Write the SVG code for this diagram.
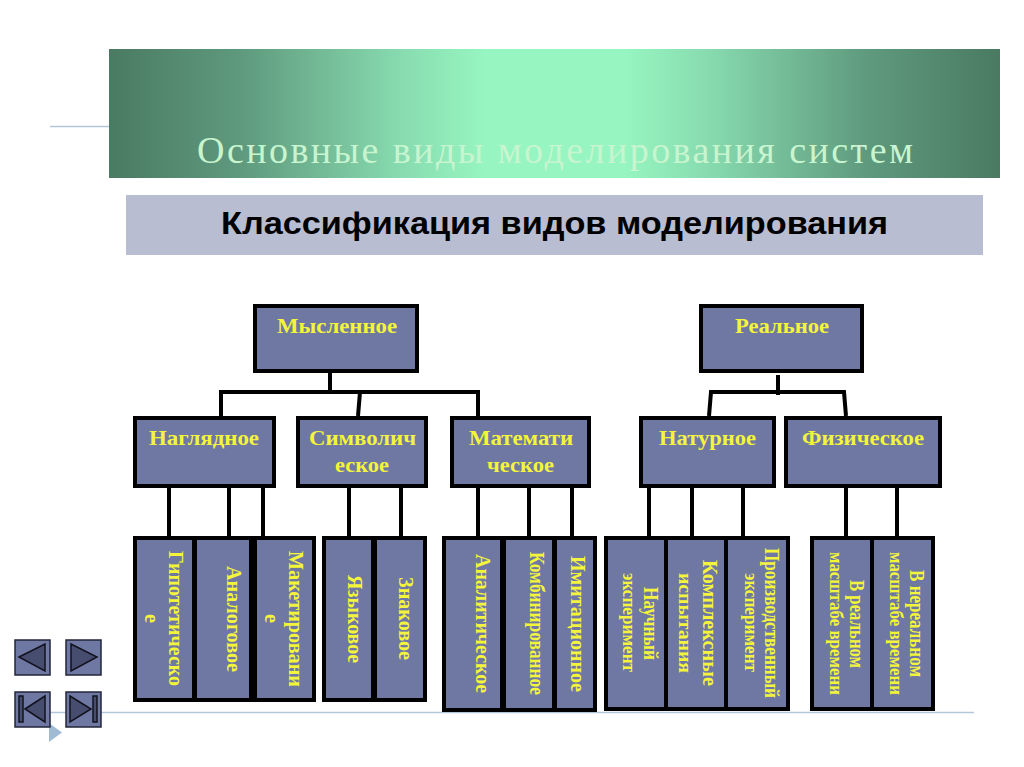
<svg xmlns="http://www.w3.org/2000/svg" width="1024" height="767" viewBox="0 0 1024 767">
<style>
.b{fill:#6e78a2;stroke:#000;stroke-width:4}
.t{font-family:"Liberation Serif",serif;font-weight:bold;font-size:22px;fill:#f4f53a}
.v{font-size:20px}
.s{font-size:18px}
.c{fill:none;stroke:#000;stroke-width:4}
.n{fill:#6e78a2;stroke:#23263a;stroke-width:1.5}
.g{fill:#474d6e;stroke:#12131f;stroke-width:1.5}
.l{fill:none;stroke:#b4c6da;stroke-width:1.5}
</style>
<defs>
<linearGradient id="hg" x1="0" y1="0" x2="1" y2="0">
<stop offset="0" stop-color="#4a7a62"/>
<stop offset=".15" stop-color="#5f9a7e"/>
<stop offset=".33" stop-color="#88dcb0"/>
<stop offset=".42" stop-color="#96f5c0"/>
<stop offset=".58" stop-color="#96f5c0"/>
<stop offset=".67" stop-color="#88dcb0"/>
<stop offset=".85" stop-color="#5f9a7e"/>
<stop offset="1" stop-color="#4a7a62"/>
</linearGradient>
</defs>
<rect width="1024" height="767" fill="#fff"/>
<g id="decor">
<path class="l" d="M50 126.500H110M50 712.500H974"/>
<path d="M49 723L62 732.500L49 742Z" fill="#a0bcd4"/>
</g>
<g id="header">
<rect x="109" y="49" width="891" height="129" fill="url(#hg)"/>
<text x="197" y="163" textLength="716" lengthAdjust="spacing" font-family="'Liberation Serif',serif" font-size="38" fill="#c8f5cf">Основные виды моделирования систем</text>
</g>
<g id="subtitle">
<rect x="126" y="195" width="857" height="60" fill="#b8bdd1"/>
<text x="221" y="234" textLength="667" lengthAdjust="spacingAndGlyphs" font-family="'Liberation Sans',sans-serif" font-weight="bold" font-size="32" fill="#000">Классификация видов моделирования</text>
</g>
<g id="connectors">
<path class="c" d="M330 373V392M221 416V392H478V416M360 392L358 416"/>
<path class="c" d="M778 375V395M709 416L711 392H844L846 416"/>
<path class="c" d="M169 488V537M229 488V537M263 488V537M349 488V537M401 488V537M478 488V537M529 488V537M572 488V537M649 488V537M692 488V537M743 488V537M846 488V537M897 488V537"/>
</g>
<g id="n-myslennoe"><rect class="b" x="255" y="306" width="162" height="65"/><text class="t" x="277" y="333" textLength="120" lengthAdjust="spacingAndGlyphs">Мысленное</text></g>
<g id="n-realnoe"><rect class="b" x="701" y="306" width="161" height="65"/><text class="t" x="735" y="333" textLength="94" lengthAdjust="spacingAndGlyphs">Реальное</text></g>
<g id="n-nagl"><rect class="b" x="135" y="418" width="139" height="68"/><text class="t" x="149" y="445" textLength="110" lengthAdjust="spacingAndGlyphs">Наглядное</text></g>
<g id="n-simv"><rect class="b" x="298" y="418" width="128" height="68"/><text class="t" x="309" y="445" textLength="107" lengthAdjust="spacingAndGlyphs">Символич</text><text class="t" x="335" y="472" textLength="54" lengthAdjust="spacingAndGlyphs">еское</text></g>
<g id="n-matem"><rect class="b" x="452" y="418" width="137" height="68"/><text class="t" x="469" y="445" textLength="104" lengthAdjust="spacingAndGlyphs">Математи</text><text class="t" x="487" y="472" textLength="67" lengthAdjust="spacingAndGlyphs">ческое</text></g>
<g id="n-natur"><rect class="b" x="641" y="418" width="133" height="68"/><text class="t" x="659" y="445" textLength="97" lengthAdjust="spacingAndGlyphs">Натурное</text></g>
<g id="n-fiz"><rect class="b" x="786" y="418" width="154" height="68"/><text class="t" x="802" y="445" textLength="122" lengthAdjust="spacingAndGlyphs">Физическое</text></g>

<g id="l-gipot"><rect class="b" x="135" y="538" width="59" height="162"/><text class="t v" x="169" y="551" transform="rotate(90 169 551)" textLength="135" lengthAdjust="spacingAndGlyphs">Гипотетическо</text><text class="t v" x="145" y="614" transform="rotate(90 145 614)" textLength="9" lengthAdjust="spacingAndGlyphs">е</text></g>
<g id="l-analog"><rect class="b" x="195" y="538" width="56" height="162"/><text class="t v" x="227" y="566" transform="rotate(90 227 566)" textLength="106" lengthAdjust="spacingAndGlyphs">Аналоговое</text></g>
<g id="l-maket"><rect class="b" x="255" y="538" width="59" height="162"/><text class="t v" x="289" y="551" transform="rotate(90 289 551)" textLength="136" lengthAdjust="spacingAndGlyphs">Макетировани</text><text class="t v" x="265" y="614" transform="rotate(90 265 614)" textLength="9" lengthAdjust="spacingAndGlyphs">е</text></g>
<g id="l-yaz"><rect class="b" x="324" y="538" width="49" height="162"/><text class="t v" x="348" y="575" transform="rotate(90 348 575)" textLength="88" lengthAdjust="spacingAndGlyphs">Языковое</text></g>
<g id="l-znak"><rect class="b" x="375" y="538" width="50" height="162"/><text class="t v" x="399" y="577" transform="rotate(90 399 577)" textLength="83" lengthAdjust="spacingAndGlyphs">Знаковое</text></g>
<g id="l-analit"><rect class="b" x="444" y="538" width="58" height="172"/><text class="t v" x="476" y="554" transform="rotate(90 476 554)" textLength="139" lengthAdjust="spacingAndGlyphs">Аналитическое</text></g>
<g id="l-komb"><rect class="b" x="504" y="538" width="50" height="172"/><text class="t v" x="530" y="552" transform="rotate(90 530 552)" textLength="143" lengthAdjust="spacingAndGlyphs">Комбинированное</text></g>
<g id="l-imit"><rect class="b" x="555" y="538" width="40" height="172"/><text class="t v" x="571" y="556" transform="rotate(90 571 556)" textLength="136" lengthAdjust="spacingAndGlyphs">Имитационное</text></g>
<g id="l-nauch"><rect class="b" x="606" y="538" width="60" height="171"/><text class="t v" x="644" y="587" transform="rotate(90 644 587)" textLength="73" lengthAdjust="spacingAndGlyphs">Научный</text><text class="t s" x="623" y="573" transform="rotate(90 623 573)" textLength="99" lengthAdjust="spacingAndGlyphs">эксперимент</text></g>
<g id="l-kompl"><rect class="b" x="666" y="538" width="60" height="171"/><text class="t v" x="703" y="560" transform="rotate(90 703 560)" textLength="126" lengthAdjust="spacingAndGlyphs">Комплексные</text><text class="t s" x="679" y="573" transform="rotate(90 679 573)" textLength="100" lengthAdjust="spacingAndGlyphs">испытания</text></g>
<g id="l-proizv"><rect class="b" x="726" y="538" width="62" height="171"/><text class="t v" x="765" y="548" transform="rotate(90 765 548)" textLength="150" lengthAdjust="spacingAndGlyphs">Производственный</text><text class="t s" x="745" y="573" transform="rotate(90 745 573)" textLength="99" lengthAdjust="spacingAndGlyphs">эксперимент</text></g>
<g id="l-real"><rect class="b" x="812" y="538" width="60" height="171"/><text class="t v" x="850" y="580" transform="rotate(90 850 580)" textLength="88" lengthAdjust="spacingAndGlyphs">В реальном</text><text class="t s" x="830" y="552" transform="rotate(90 830 552)" textLength="143" lengthAdjust="spacingAndGlyphs">масштабе времени</text></g>
<g id="l-nereal"><rect class="b" x="872" y="538" width="61" height="171"/><text class="t v" x="910" y="570" transform="rotate(90 910 570)" textLength="107" lengthAdjust="spacingAndGlyphs">В нереальном</text><text class="t s" x="890" y="552" transform="rotate(90 890 552)" textLength="143" lengthAdjust="spacingAndGlyphs">масштабе времени</text></g>

<g id="btn-prev"><rect class="n" x="15" y="640" width="35" height="35"/><path class="g" d="M19 657L45 644V671Z"/></g>
<g id="btn-next"><rect class="n" x="66" y="640" width="35" height="35"/><path class="g" d="M71 644L97 657L71 671Z"/></g>
<g id="btn-first"><rect class="n" x="15" y="692" width="35" height="35"/><rect class="g" x="19" y="696" width="4" height="26"/><path class="g" d="M25 709L45 696V722Z"/></g>
<g id="btn-last"><rect class="n" x="66" y="692" width="35" height="35"/><path class="g" d="M70 696L91 709L70 722Z"/><rect class="g" x="93" y="696" width="4" height="26"/></g>
</svg>
